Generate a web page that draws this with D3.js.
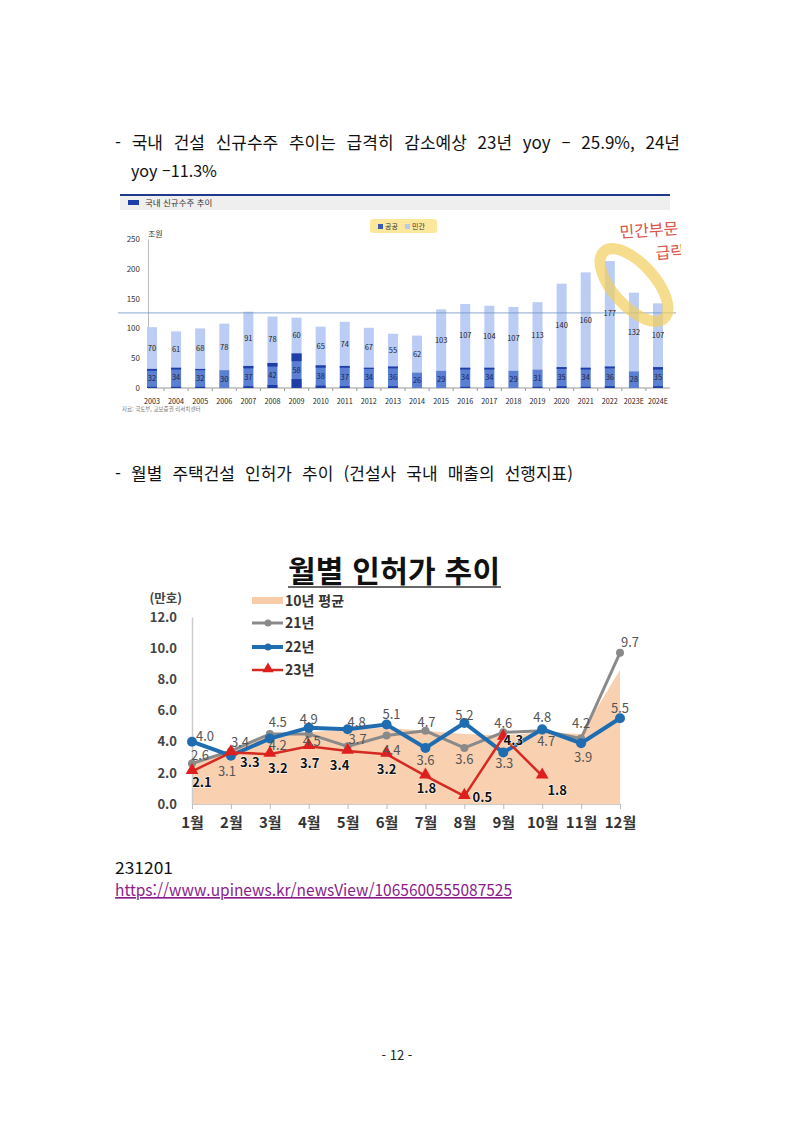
<!DOCTYPE html>
<html lang="ko">
<head>
<meta charset="UTF-8" />
<title>건설 신규수주 · 월별 인허가</title>
<style>
  body { margin: 0; background: #fff; }
  svg text { font-family: "Noto Sans CJK KR", "Noto Sans", sans-serif; }
</style>
</head>
<body>
<svg width="793" height="1121"></svg>
<script src="https://cdnjs.cloudflare.com/ajax/libs/d3/7.8.5/d3.min.js"></script>
<script>
// 국내 신규수주 (조원)
var years = ["2003","2004","2005","2006","2007","2008","2009","2010","2011","2012","2013",
             "2014","2015","2016","2017","2018","2019","2020","2021","2022","2023E","2024E"];
var publicOrders  = [32,34,32,30,37,42,58,38,37,34,36,26,29,34,34,29,31,35,34,36,28,35];
var privateOrders = [70,61,68,78,91,78,60,65,74,67,55,62,103,107,104,107,113,140,160,177,132,107];
var publicTopDark  = [3,3,2,0,4,6,13,4,3,2,3,0,0,3,3,0,0,3,3,3,0,4];
var publicBaseDark = [2,2,2,0,3,5,15,4,3,2,3,0,0,2,2,0,2,3,2,3,0,3];
var refLineValue = 126;
var yTicks1 = [0,50,100,150,200,250];

// 월별 인허가 (만호)
var months = ["1월","2월","3월","4월","5월","6월","7월","8월","9월","10월","11월","12월"];
var avg10     = [2.6,3.5,4.4,4.6,4.8,4.9,4.7,4.5,4.4,4.6,4.5,8.6];
var permits21 = [2.6,3.4,4.5,4.5,3.7,4.4,4.7,3.6,4.6,4.7,4.2,9.7];
var permits22 = [4.0,3.1,4.2,4.9,4.8,5.1,3.6,5.2,3.3,4.8,3.9,5.5];
var permits23 = [2.1,3.3,3.2,3.7,3.4,3.2,1.8,0.5,4.3,1.8];
var yTicks2 = [0,2,4,6,8,10,12];

// label offsets (px) for the line chart
var off21 = [[8,-8],[9,-9],[8,-11],[3,8],[10,-7],[5,15],[1,-8],[0,12],[0,-9],[4,11],[0,-15],[10,-10]];
var off22 = [[13,-5],[-4,16],[8,7],[0,-8],[9,-7],[5,-10],[0,13],[0,-8],[1,11],[0,-12],[2,14],[0,-10]];
var off23 = [[10,11],[19,10],[8,14],[1,17],[-8,14],[0,15],[1,12],[18,1],[10,3],[15,14]];

var svg = d3.select("svg");

function fitWords(sel, width) {
  var len = sel.node().getComputedTextLength();
  var n = (sel.text().match(/ /g) || []).length;
  if (n) sel.attr("word-spacing", (width - len) / n);
}

// ---------- page text ----------
var t1 = svg.append("text").attr("x", 115).attr("y", 149).attr("font-size", 17).attr("fill", "#111")
  .text("- 국내 건설 신규수주 추이는 급격히 감소예상 23년 yoy – 25.9%, 24년");
fitWords(t1, 565);
svg.append("text").attr("x", 131).attr("y", 177).attr("font-size", 16.5).attr("fill", "#111")
  .attr("textLength", 86).attr("lengthAdjust", "spacingAndGlyphs").text("yoy –11.3%");

var t2 = svg.append("text").attr("x", 115).attr("y", 480).attr("font-size", 17).attr("fill", "#111")
  .text("- 월별 주택건설 인허가 추이 (건설사 국내 매출의 선행지표)");
fitWords(t2, 458);

svg.append("text").attr("x", 115).attr("y", 874).attr("font-size", 16.5).attr("fill", "#111")
  .attr("textLength", 58).attr("lengthAdjust", "spacingAndGlyphs").text("231201");
svg.append("text").attr("x", 115).attr("y", 896).attr("font-size", 16.5).attr("fill", "#8a1c8c")
  .attr("textLength", 397).attr("lengthAdjust", "spacingAndGlyphs")
  .attr("text-decoration", "underline").text("https://www.upinews.kr/newsView/1065600555087525");
svg.append("text").attr("x", 397).attr("y", 1060).attr("font-size", 13).attr("fill", "#222")
  .attr("text-anchor", "middle").text("- 12 -");

// ---------- chart 1 : 국내 신규수주 추이 ----------
var c1 = svg.append("g");
c1.append("rect").attr("x", 120).attr("y", 196).attr("width", 550).attr("height", 14).attr("fill", "#efefef");
c1.append("line").attr("x1", 120).attr("x2", 670).attr("y1", 195).attr("y2", 195)
  .attr("stroke", "#1f3a8a").attr("stroke-width", 2);
c1.append("rect").attr("x", 128).attr("y", 200).attr("width", 11).attr("height", 5).attr("fill", "#1a3fa8");
c1.append("text").attr("x", 145).attr("y", 206).attr("font-size", 8.5).attr("fill", "#333").text("국내 신규수주 추이");

var x1 = d3.scalePoint().domain(years).range([152, 658]);
var y1 = d3.scaleLinear().domain([0, 250]).range([388, 239]);
var bw = 10;

// legend with highlight
c1.append("rect").attr("x", 370).attr("y", 219).attr("width", 67).attr("height", 14).attr("rx", 3)
  .attr("fill", "#fbe48c").attr("opacity", 0.85);
c1.append("rect").attr("x", 378).attr("y", 224).attr("width", 5).attr("height", 5).attr("fill", "#3a5cb8");
c1.append("text").attr("x", 385).attr("y", 229).attr("font-size", 7).attr("fill", "#333").text("공공");
c1.append("rect").attr("x", 405).attr("y", 224).attr("width", 5).attr("height", 5).attr("fill", "#b7c9f2");
c1.append("text").attr("x", 412).attr("y", 229).attr("font-size", 7).attr("fill", "#333").text("민간");

// y axis
var ya1 = c1.append("g").attr("transform", "translate(148,0)")
  .call(d3.axisLeft(y1).tickValues(yTicks1).tickSize(0).tickPadding(8));
ya1.select(".domain").attr("stroke", "#bbb");
ya1.selectAll("text").attr("font-size", 8).attr("fill", "#333").attr("font-family", "'Noto Sans', sans-serif");
c1.append("text").attr("x", 148).attr("y", 237).attr("font-size", 8).attr("fill", "#333").text("조원");

// x axis
c1.append("line").attr("x1", 148).attr("x2", 670).attr("y1", 388).attr("y2", 388).attr("stroke", "#999");
c1.selectAll(".xt1").data(years.slice(1)).enter().append("line")
  .attr("x1", function (d) { return x1(d) - x1.step() / 2; })
  .attr("x2", function (d) { return x1(d) - x1.step() / 2; })
  .attr("y1", 388).attr("y2", 391).attr("stroke", "#999");
c1.selectAll(".yl1").data(years).enter().append("text")
  .attr("x", function (d) { return x1(d); }).attr("y", 404)
  .attr("text-anchor", "middle").attr("font-size", 7.2).attr("fill", "#222")
  .attr("font-family", "'Noto Sans', sans-serif").text(function (d) { return d; });

// bars
var bars = c1.append("g");
years.forEach(function (yr, i) {
  var cx = x1(yr), pub = publicOrders[i], pri = privateOrders[i];
  bars.append("rect").attr("x", cx - bw / 2).attr("width", bw)
    .attr("y", y1(pub + pri)).attr("height", y1(pub) - y1(pub + pri)).attr("fill", "#bccdf5");
  bars.append("rect").attr("x", cx - bw / 2).attr("width", bw)
    .attr("y", y1(pub)).attr("height", y1(0) - y1(pub)).attr("fill", "#5b7fd3");
  if (publicTopDark[i] > 0)
    bars.append("rect").attr("x", cx - bw / 2).attr("width", bw)
      .attr("y", y1(pub)).attr("height", y1(pub - publicTopDark[i]) - y1(pub)).attr("fill", "#1d3ea8");
  if (publicBaseDark[i] > 0)
    bars.append("rect").attr("x", cx - bw / 2).attr("width", bw)
      .attr("y", y1(publicBaseDark[i])).attr("height", y1(0) - y1(publicBaseDark[i])).attr("fill", "#1d3ea8");
  bars.append("text").attr("x", cx).attr("y", y1(pub + pri / 2)).attr("dy", "0.35em")
    .attr("text-anchor", "middle").attr("font-size", 7.5).attr("fill", "#222")
    .attr("font-family", "'Noto Sans', sans-serif").text(pri);
  bars.append("text").attr("x", cx).attr("y", y1(pub / 2)).attr("dy", "0.35em")
    .attr("text-anchor", "middle").attr("font-size", 7.5).attr("fill", "#1b2550")
    .attr("font-family", "'Noto Sans', sans-serif").text(pub);
});

c1.append("line").attr("x1", 118).attr("x2", 676)
  .attr("y1", y1(refLineValue)).attr("y2", y1(refLineValue))
  .attr("stroke", "#6f93c4").attr("stroke-width", 0.8);

c1.append("text").attr("x", 122).attr("y", 411).attr("font-size", 5.5).attr("fill", "#777")
  .text("자료: 국토부, 교보증권 리서치센터");

// handwritten note
svg.append("clipPath").attr("id", "clipNote").append("rect")
  .attr("x", 0).attr("y", 0).attr("width", 681).attr("height", 1121);
var note = svg.append("g").attr("clip-path", "url(#clipNote)");
note.append("ellipse").attr("cx", 0).attr("cy", 0).attr("rx", 45).attr("ry", 21)
  .attr("transform", "translate(634,285) rotate(48)")
  .attr("fill", "none").attr("stroke", "#f2cf5e").attr("stroke-opacity", 0.7).attr("stroke-width", 11);
note.append("text").attr("x", 620).attr("y", 238).attr("font-size", 16).attr("fill", "#d9544a")
  .attr("transform", "rotate(-4,620,238)").text("민간부문");
note.append("text").attr("x", 656).attr("y", 259).attr("font-size", 16).attr("fill", "#d9544a")
  .attr("transform", "rotate(-4,656,259)").text("급락");

// ---------- chart 2 : 월별 인허가 추이 ----------
var c2 = svg.append("g");
c2.append("text").attr("x", 394).attr("y", 582).attr("font-size", 30).attr("font-weight", "bold")
  .attr("fill", "#111").attr("text-anchor", "middle")
  .attr("textLength", 212).attr("lengthAdjust", "spacing").text("월별 인허가 추이");
c2.append("line").attr("x1", 288).attr("x2", 501).attr("y1", 587).attr("y2", 587)
  .attr("stroke", "#333").attr("stroke-width", 1.5);

var x2 = d3.scalePoint().domain(months).range([192, 620]);
var y2 = d3.scaleLinear().domain([0, 12]).range([804, 617]);

var area = d3.area().x(function (d, i) { return x2(months[i]); })
  .y0(y2(0)).y1(function (d) { return y2(d); });
c2.append("path").datum(avg10).attr("d", area).attr("fill", "#f8cca8").attr("opacity", 0.9);

var ya2 = c2.append("g").attr("transform", "translate(192,0)")
  .call(d3.axisLeft(y2).tickValues(yTicks2).tickFormat(d3.format(".1f")).tickSize(0).tickPadding(15));
ya2.select(".domain").attr("stroke", "#ccc").attr("stroke-width", 1.5);
ya2.selectAll("text").attr("font-size", 13).attr("font-weight", "bold").attr("fill", "#444");

var xa2 = c2.append("g").attr("transform", "translate(0,804)")
  .call(d3.axisBottom(x2).tickSize(5).tickSizeOuter(0).tickPadding(8));
xa2.select(".domain").attr("stroke", "#ccc");
xa2.selectAll("line").attr("stroke", "#bbb");
xa2.selectAll("text").attr("font-size", 15).attr("font-weight", "bold").attr("fill", "#333");

c2.append("text").attr("x", 182).attr("y", 603).attr("text-anchor", "end")
  .attr("font-size", 12.5).attr("font-weight", "bold").attr("fill", "#444").text("(만호)");

var line = d3.line().x(function (d, i) { return x2(months[i]); }).y(function (d) { return y2(d); });

c2.append("path").datum(permits21).attr("d", line).attr("fill", "none")
  .attr("stroke", "#8a8a8a").attr("stroke-width", 3);
c2.selectAll(".p21").data(permits21).enter().append("circle")
  .attr("cx", function (d, i) { return x2(months[i]); }).attr("cy", function (d) { return y2(d); })
  .attr("r", 4).attr("fill", "#8a8a8a");

c2.append("path").datum(permits22).attr("d", line).attr("fill", "none")
  .attr("stroke", "#1f6db0").attr("stroke-width", 4);
c2.selectAll(".p22").data(permits22).enter().append("circle")
  .attr("cx", function (d, i) { return x2(months[i]); }).attr("cy", function (d) { return y2(d); })
  .attr("r", 5).attr("fill", "#1f6db0");

c2.append("path").datum(permits23).attr("d", line).attr("fill", "none")
  .attr("stroke", "#d42a22").attr("stroke-width", 2.5);
c2.selectAll(".p23").data(permits23).enter().append("path")
  .attr("d", d3.symbol(d3.symbolTriangle).size(70))
  .attr("transform", function (d, i) { return "translate(" + x2(months[i]) + "," + (y2(d) - 1) + ")"; })
  .attr("fill", "#e01e1e");

function addLabels(vals, offs, bold) {
  c2.selectAll(null).data(vals).enter().append("text")
    .attr("x", function (d, i) { return x2(months[i]) + offs[i][0]; })
    .attr("y", function (d, i) { return y2(d) + offs[i][1]; })
    .attr("dy", "0.35em").attr("text-anchor", "middle")
    .attr("font-size", 13).attr("font-weight", bold ? "bold" : "normal")
    .attr("fill", bold ? "#111" : "#555")
    .attr("stroke", bold ? "#fff" : "none").attr("stroke-width", bold ? 1 : 0)
    .attr("paint-order", "stroke")
    .text(function (d) { return d3.format(".1f")(d); });
}
addLabels(permits21, off21, false);
addLabels(permits22, off22, false);
addLabels(permits23, off23, true);

// legend
var lg = c2.append("g");
lg.append("rect").attr("x", 252).attr("y", 597).attr("width", 31).attr("height", 7).attr("fill", "#f8cca8");
var legRows = [
  { label: "21년", color: "#8a8a8a", w: 3, mark: "circle", y: 623 },
  { label: "22년", color: "#1f6db0", w: 4, mark: "circle", y: 647 },
  { label: "23년", color: "#d42a22", w: 2.5, mark: "tri", y: 670 }
];
legRows.forEach(function (r) {
  lg.append("line").attr("x1", 252).attr("x2", 283).attr("y1", r.y).attr("y2", r.y)
    .attr("stroke", r.color).attr("stroke-width", r.w);
  if (r.mark === "circle")
    lg.append("circle").attr("cx", 268).attr("cy", r.y).attr("r", 3.5).attr("fill", r.color);
  else
    lg.append("path").attr("d", d3.symbol(d3.symbolTriangle).size(55))
      .attr("transform", "translate(268," + (r.y - 1) + ")").attr("fill", "#e01e1e");
  lg.append("text").attr("x", 285).attr("y", r.y).attr("dy", "0.35em")
    .attr("font-size", 14).attr("font-weight", "bold").attr("fill", "#333").text(r.label);
});
lg.append("text").attr("x", 285).attr("y", 601).attr("dy", "0.35em")
  .attr("font-size", 14).attr("font-weight", "bold").attr("fill", "#333").text("10년 평균");
</script>
</body>
</html>
